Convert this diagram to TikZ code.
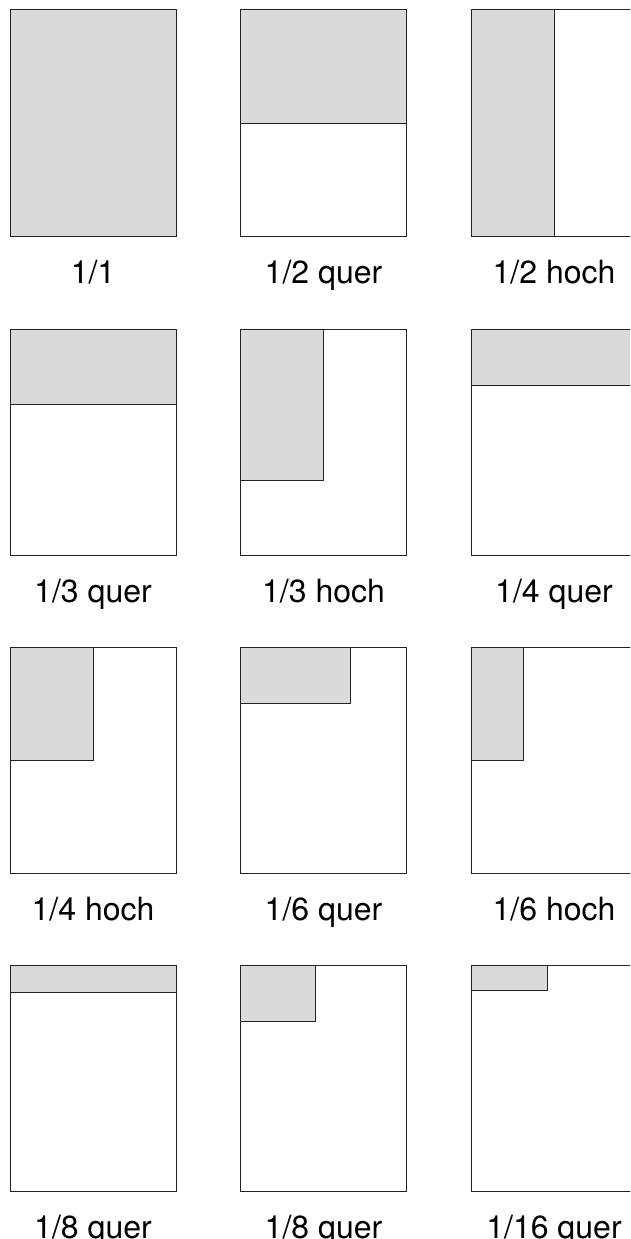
\documentclass[tikz,border=0pt]{standalone}
\usepackage{fontspec}
\setmainfont{TeX Gyre Heros}
\definecolor{adfill}{HTML}{D9DADC}
\definecolor{adline}{HTML}{222222}
\tikzset{
  sheet/.style={draw=adline, line width=1pt, fill=white},
  adarea/.style={draw=adline, line width=1pt, fill=adfill},
  caption/.style={anchor=base, inner sep=0pt, font=\fontsize{32}{38}\selectfont}
}
% #1 x, #2 y (top), #3 ad width, #4 ad height, #5 label, #6 name
\newcommand{\mypg}[6]{%
  \path[sheet] (#1,#2) rectangle ++(166,226);
  \path[adarea] (#1,#2) rectangle ++(#3,#4);
  \node[caption] (#6) at ($(#1,#2)+(83,273)$) {#5};
}
\usetikzlibrary{calc}
\begin{document}
\begin{tikzpicture}[x=1pt,y=-1pt]
\useasboundingbox (0,0) rectangle (630,1239);
\clip (0,0) rectangle (630,1239);
% row 1
\mypg{10}{10}{166}{226}{1/1}{a1}
\mypg{240.5}{10}{166}{113}{1/2 quer}{a2}
\mypg{471}{10}{83}{226}{1/2 hoch}{a3}
% row 2
\mypg{10}{329}{166}{75}{1/3 quer}{b1}
\mypg{240.5}{329}{83}{151}{1/3 hoch}{b2}
\mypg{471}{329}{166}{56}{1/4 quer}{b3}
% row 3
\mypg{10}{647}{83}{113}{1/4 hoch}{c1}
\mypg{240.5}{647}{110}{56}{1/6 quer}{c2}
\mypg{471}{647}{52}{113}{1/6 hoch}{c3}
% row 4
\mypg{10}{965}{166}{27}{1/8 quer}{d1}
\mypg{240.5}{965}{75}{56}{1/8 quer}{d2}
\mypg{471}{965}{76}{25}{1/16 quer}{d3}
\end{tikzpicture}
\end{document}
